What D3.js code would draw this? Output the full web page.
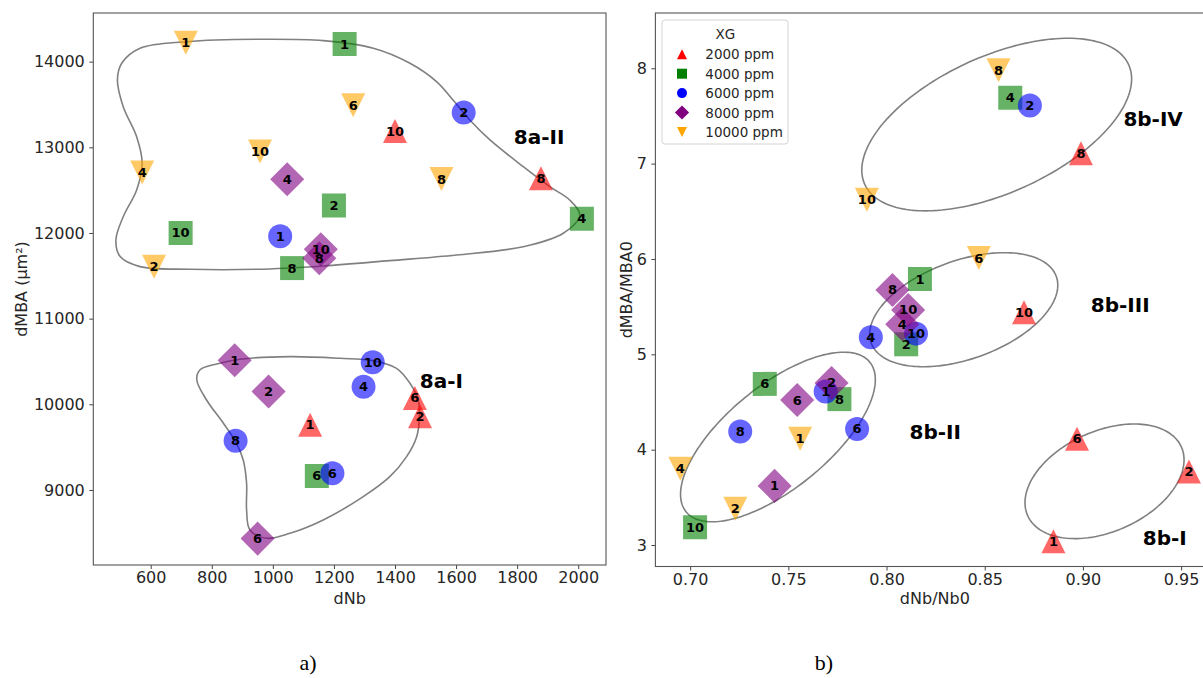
<!DOCTYPE html>
<html>
<head>
<meta charset="utf-8">
<script src="https://cdn.jsdelivr.net/npm/d3@7"></script>
<style>
  html, body { margin: 0; padding: 0; background: #fff; }
  svg { display: block; font-family: "DejaVu Sans", sans-serif; }
</style>
</head>
<body>
<svg id="fig" width="1203" height="678"></svg>
<script>
// ---- Concentration groups ----
const groups = ["2000 ppm", "4000 ppm", "6000 ppm", "8000 ppm", "10000 ppm"];
const groupColors = ["red", "green", "blue", "purple", "orange"];
const groupShapes = ["triUp", "square", "circle", "diamond", "triDown"];

// sample labels per group
const labels2000 = ["1", "2", "6", "8", "10"];
const labels4000 = ["1", "2", "4", "6", "8", "10"];
const labels6000 = ["1", "2", "4", "6", "8", "10"];
const labels8000 = ["1", "2", "4", "6", "8", "10"];
const labels10000 = ["1", "2", "4", "6", "8", "10"];

// ---- a) absolute values: dNb vs dMBA (µm²) ----
const dNb2000 = [1122, 1482, 1465, 1878, 1400];
const dMBA2000 = [9762, 9860, 10075, 12640, 13190];
const dNb4000 = [1235, 1200, 2012, 1144, 1063, 698];
const dMBA4000 = [14205, 12320, 12165, 9163, 11590, 12000];
const dNb6000 = [1024, 1625, 1297, 1195, 878, 1327];
const dMBA6000 = [11962, 13405, 10205, 9195, 9575, 10490];
const dNb8000 = [875, 986, 1047, 950, 1152, 1157];
const dMBA8000 = [10515, 10150, 12627, 8432, 11705, 11810];
const dNb10000 = [715, 611, 572, 1263, 1552, 958];
const dMBA10000 = [14222, 11607, 12705, 13490, 12630, 12950];

// ---- b) normalised values: dNb/Nb0 vs dMBA/MBA0 ----
const rNb2000 = [0.885, 0.954, 0.897, 0.899, 0.870];
const rMBA2000 = [3.04, 3.77, 4.115, 7.11, 5.44];
const rNb4000 = [0.817, 0.810, 0.863, 0.738, 0.776, 0.7025];
const rMBA4000 = [5.79, 5.105, 7.69, 4.69, 4.53, 3.185];
const rNb6000 = [0.769, 0.873, 0.792, 0.785, 0.7255, 0.815];
const rMBA6000 = [4.61, 7.61, 5.18, 4.217, 4.19, 5.217];
const rNb8000 = [0.743, 0.772, 0.808, 0.7545, 0.803, 0.811];
const rMBA8000 = [3.62, 4.70, 5.315, 4.52, 5.675, 5.465];
const rNb10000 = [0.756, 0.723, 0.695, 0.847, 0.857, 0.790];
const rMBA10000 = [4.115, 3.38, 3.80, 6.01, 7.98, 6.62];

// ---- tick values ----
const xTicksA = [600, 800, 1000, 1200, 1400, 1600, 1800, 2000];
const yTicksA = [9000, 10000, 11000, 12000, 13000, 14000];
const xTicksB = [0.70, 0.75, 0.80, 0.85, 0.90, 0.95];
const yTicksB = [3, 4, 5, 6, 7, 8];

// ---- cluster outlines in panel a (dNb, dMBA) ----
const outline8aII = [
  [718, 14233], [565, 14156], [505, 13981], [491, 13786], [510, 13475], [554, 13124],
  [572, 12814], [554, 12502], [510, 12190], [486, 11918], [500, 11724], [565, 11607],
  [729, 11576], [947, 11576], [1165, 11615], [1383, 11677], [1602, 11743], [1820, 11840],
  [1951, 11997], [2005, 12210], [1972, 12385], [1907, 12541], [1820, 12774], [1711, 13086],
  [1645, 13319], [1590, 13553], [1536, 13767], [1449, 13981], [1329, 14156], [1165, 14245],
  [947, 14261]
];
const outline8aI = [
  [816, 10471], [892, 10526], [1056, 10556], [1220, 10537], [1327, 10510], [1405, 10420],
  [1449, 10245], [1476, 10050], [1480, 9856], [1471, 9622], [1438, 9389], [1383, 9155],
  [1296, 8922], [1165, 8650], [1056, 8494], [980, 8436], [925, 8533], [914, 8766],
  [914, 9078], [903, 9350], [881, 9545], [838, 9778], [783, 10050], [751, 10284],
  [761, 10401]
];

// ---- cluster ellipses in panel b: centre, half extents, correlation ----
const ellipseNames = ["8b-IV", "8b-III", "8b-II", "8b-I"];
const ellipseCx = [0.8561, 0.8393, 0.7447, 0.9110];
const ellipseCy = [7.410, 5.468, 4.133, 3.668];
const ellipseRx = [0.0687, 0.0479, 0.0496, 0.0405];
const ellipseRy = [0.905, 0.598, 0.8895, 0.601];
const ellipseRho = [0.528, 0.429, 0.676, 0.373];

// ---- cluster names and their anchor (left, middle) ----
const regionNamesA = ["8a-II", "8a-I"];
const regionXA = [1789, 1481];
const regionYA = [13124, 10272];
const regionNamesB = ["8b-IV", "8b-III", "8b-II", "8b-I"];
const regionXB = [0.9206, 0.9040, 0.8117, 0.9305];
const regionYB = [7.469, 5.518, 4.189, 3.073];

// ---------------------------------------------------------------
const svg = d3.select("#fig");
svg.append("rect").attr("width", 1203).attr("height", 678).attr("fill", "#fff");

const TXT = "#262626";

function markerPath(shape, s) {
  const d = s * 1.42;
  switch (shape) {
    case "triUp": return `M0,${-s}L${s},${s}L${-s},${s}Z`;
    case "triDown": return `M0,${s}L${s},${-s}L${-s},${-s}Z`;
    case "square": return `M${-s},${-s}H${s}V${s}H${-s}Z`;
    case "diamond": return `M0,${-d}L${d},0L0,${d}L${-d},0Z`;
    case "circle":
    default:
      return `M${s},0A${s},${s} 0 1,1 ${-s},0A${s},${s} 0 1,1 ${s},0Z`;
  }
}

function buildSeries(labelsArr, xsArr, ysArr) {
  return groups.map((g, gi) => labelsArr[gi].map((lab, i) => ({
    group: gi, label: lab, x: xsArr[gi][i], y: ysArr[gi][i]
  })));
}
const allLabels = [labels2000, labels4000, labels6000, labels8000, labels10000];
const seriesA = buildSeries(allLabels,
  [dNb2000, dNb4000, dNb6000, dNb8000, dNb10000],
  [dMBA2000, dMBA4000, dMBA6000, dMBA8000, dMBA10000]);
const seriesB = buildSeries(allLabels,
  [rNb2000, rNb4000, rNb6000, rNb8000, rNb10000],
  [rMBA2000, rMBA4000, rMBA6000, rMBA8000, rMBA10000]);

function drawPanel(cfg) {
  const { x, y } = cfg;
  const g = svg.append("g");
  const [x0, x1] = x.range();
  const [y0, y1] = y.range(); // y0 bottom, y1 top

  const clipId = cfg.id + "-clip";
  svg.append("defs").append("clipPath").attr("id", clipId)
    .append("rect").attr("x", x0).attr("y", y1).attr("width", x1 - x0).attr("height", y0 - y1);

  const plot = g.append("g").attr("clip-path", `url(#${clipId})`);

  // cluster outlines
  const line = d3.line().x(d => x(d[0])).y(d => y(d[1]));
  cfg.outlines.forEach(pts => {
    plot.append("path")
      .attr("d", line.curve(cfg.curve)(pts))
      .attr("fill", "none").attr("stroke", "#808080").attr("stroke-width", 1.6);
  });

  // markers
  cfg.series.forEach((ser, gi) => {
    plot.append("g").selectAll("path").data(ser).join("path")
      .attr("transform", d => `translate(${x(d.x)},${y(d.y)})`)
      .attr("d", markerPath(groupShapes[gi], 12))
      .attr("fill", groupColors[gi]).attr("fill-opacity", 0.6);
  });

  // sample labels on the markers
  cfg.series.forEach(ser => {
    plot.append("g").selectAll("text").data(ser).join("text")
      .attr("x", d => x(d.x)).attr("y", d => y(d.y))
      .attr("text-anchor", "middle").attr("dominant-baseline", "central")
      .attr("font-size", 13).attr("font-weight", "bold").attr("fill", "#000")
      .text(d => d.label);
  });

  // cluster names
  cfg.regions.forEach(r => {
    plot.append("text")
      .attr("x", x(r.x)).attr("y", y(r.y))
      .attr("dominant-baseline", "central")
      .attr("font-size", 20).attr("font-weight", "bold").attr("fill", "#000")
      .text(r.name);
  });

  // axes
  const ax = g.append("g").attr("transform", `translate(0,${y0})`)
    .call(d3.axisBottom(x).tickValues(cfg.xTicks).tickFormat(cfg.xFmt).tickSize(4).tickSizeOuter(0).tickPadding(3));
  const ay = g.append("g").attr("transform", `translate(${x0},0)`)
    .call(d3.axisLeft(y).tickValues(cfg.yTicks).tickFormat(cfg.yFmt).tickSize(4).tickSizeOuter(0).tickPadding(4.5));
  [ax, ay].forEach(a => {
    a.select(".domain").remove();
    a.selectAll(".tick line").attr("stroke", "#444");
    a.selectAll(".tick text").attr("font-size", 16).attr("fill", TXT)
      .attr("font-family", "DejaVu Sans, sans-serif");
  });

  // frame
  g.append("rect").attr("x", x0).attr("y", y1).attr("width", x1 - x0).attr("height", y0 - y1)
    .attr("fill", "none").attr("stroke", "#555").attr("stroke-width", 1.1);

  // axis titles
  g.append("text").attr("x", (x0 + x1) / 2).attr("y", 598)
    .attr("text-anchor", "middle").attr("dominant-baseline", "central")
    .attr("font-size", 16).attr("fill", TXT).text(cfg.xTitle);
  g.append("text")
    .attr("transform", `translate(${cfg.yTitleX},${(y0 + y1) / 2}) rotate(-90)`)
    .attr("text-anchor", "middle").attr("dominant-baseline", "central")
    .attr("font-size", 16).attr("fill", TXT).text(cfg.yTitle);

  // panel caption
  g.append("text").attr("x", cfg.captionX).attr("y", 670)
    .attr("text-anchor", "middle").attr("font-family", "Liberation Serif, serif")
    .attr("font-size", 22).attr("fill", "#000").text(cfg.caption);
}

// panel a
const xA = d3.scaleLinear().domain([412, 2091]).range([93.3, 606]);
const yA = d3.scaleLinear().domain([8124, 14568]).range([565, 13]);
drawPanel({
  id: "pa", x: xA, y: yA, series: seriesA,
  outlines: [outline8aII, outline8aI], curve: d3.curveCatmullRomClosed.alpha(0.5),
  regions: regionNamesA.map((n, i) => ({ name: n, x: regionXA[i], y: regionYA[i] })),
  xTicks: xTicksA, yTicks: yTicksA, xFmt: d3.format("d"), yFmt: d3.format("d"),
  xTitle: "dNb", yTitle: "dMBA (µm²)", yTitleX: 21.5,
  caption: "a)", captionX: 308
});

// panel b: ellipses sampled from their centre / extents / correlation
const ellipseOutlines = ellipseCx.map((cx, i) => {
  const rho = ellipseRho[i], k = Math.sqrt(1 - rho * rho);
  return d3.range(0, 180).map(j => {
    const t = (j / 180) * 2 * Math.PI;
    return [cx + ellipseRx[i] * Math.cos(t),
            ellipseCy[i] + ellipseRy[i] * (rho * Math.cos(t) + k * Math.sin(t))];
  });
});
const xB = d3.scaleLinear().domain([0.6823, 0.9669]).range([655.4, 1214.3]);
const yB = d3.scaleLinear().domain([2.7745, 8.58]).range([566.5, 13]);
drawPanel({
  id: "pb", x: xB, y: yB, series: seriesB,
  outlines: ellipseOutlines, curve: d3.curveLinearClosed,
  regions: regionNamesB.map((n, i) => ({ name: n, x: regionXB[i], y: regionYB[i] })),
  xTicks: xTicksB, yTicks: yTicksB, xFmt: d3.format(".2f"), yFmt: d3.format("d"),
  xTitle: "dNb/Nb0", yTitle: "dMBA/MBA0", yTitleX: 626.5,
  caption: "b)", captionX: 824
});

// legend (panel b)
const lg = svg.append("g");
lg.append("rect").attr("x", 662).attr("y", 20).attr("width", 126).attr("height", 124)
  .attr("rx", 3).attr("fill", "#fff").attr("fill-opacity", 0.8)
  .attr("stroke", "#d4d4d4").attr("stroke-width", 1);
lg.append("text").attr("x", 725.4).attr("y", 33.5).attr("text-anchor", "middle")
  .attr("dominant-baseline", "central").attr("font-size", 13.5).attr("fill", TXT).text("XG");
groups.forEach((name, i) => {
  const yy = 54.3 + i * 19.4;
  lg.append("path").attr("transform", `translate(682,${yy})`)
    .attr("d", markerPath(groupShapes[i], 5)).attr("fill", groupColors[i]);
  lg.append("text").attr("x", 705.3).attr("y", yy).attr("dominant-baseline", "central")
    .attr("font-size", 13.5).attr("fill", TXT).text(name);
});
</script>
</body>
</html>
